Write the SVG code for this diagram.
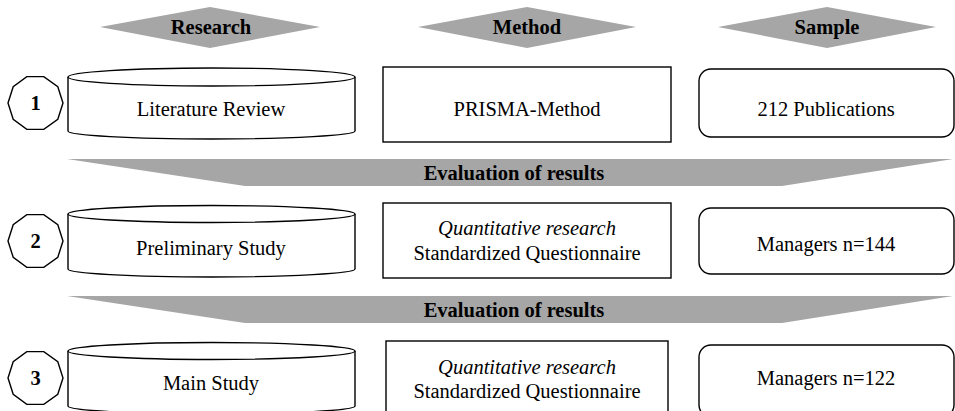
<svg xmlns="http://www.w3.org/2000/svg" width="955" height="411" viewBox="0 0 955 411">
<style>
.hdr{fill:#a6a6a6;stroke:none}
.band{fill:#a6a6a6;stroke:none}
.ln{fill:#fff;stroke:#000;stroke-width:1.4}
.t{font-family:"Liberation Serif","Times New Roman","DejaVu Serif",serif;font-size:20.5px;fill:#000;text-anchor:middle}
.b{font-weight:bold}
.i{font-style:italic}
</style>
<rect width="955" height="411" fill="#fff"/>
<g id="headers">
  <g id="h-research"><polygon class="hdr" points="100,27 210,7 320,27 210,48"/><text class="t b" x="211" y="34">Research</text></g>
  <g id="h-method"><polygon class="hdr" points="418,27 527,7 636,27 527,48"/><text class="t b" x="527" y="34">Method</text></g>
  <g id="h-sample"><polygon class="hdr" points="718,27 827,7 936,27 827,48"/><text class="t b" x="827" y="34">Sample</text></g>
</g>
<g id="connectors">
  <g id="eval1"><polygon class="band" points="67,159 953,159 782,186 245,186"/><text class="t b" x="514" y="180">Evaluation of results</text></g>
  <g id="eval2"><polygon class="band" points="67,296 953,296 782,323 245,323"/><text class="t b" x="514" y="317">Evaluation of results</text></g>
</g>
<g id="step1">
  <polygon class="ln" points="63,103 57.8,119.3 43.8,129.4 26.8,129.4 13.2,119.3 8,103 13.2,86.7 26.8,76.6 43.8,76.6 57.8,86.7"/>
  <text class="t b" x="35.5" y="110">1</text>
</g>
<g id="step2">
  <polygon class="ln" points="63,241 57.8,257.3 43.8,267.4 26.8,267.4 13.2,257.3 8,241 13.2,224.7 26.8,214.6 43.8,214.6 57.8,224.7"/>
  <text class="t b" x="35.5" y="248">2</text>
</g>
<g id="step3">
  <polygon class="ln" points="63,378 57.8,394.3 43.8,404.4 26.8,404.4 13.2,394.3 8,378 13.2,361.7 26.8,351.6 43.8,351.6 57.8,361.7"/>
  <text class="t b" x="35.5" y="385">3</text>
</g>
<g id="lit-review">
  <path class="ln" d="M68,77 L68,131 A143.5,8 0 0 0 355,131 L355,77"/>
  <ellipse class="ln" cx="211.5" cy="77" rx="143.5" ry="9"/>
  <text class="t" x="211" y="116">Literature Review</text>
</g>
<g id="prelim-study">
  <path class="ln" d="M68,214 L68,269 A143.5,8 0 0 0 355,269 L355,214"/>
  <ellipse class="ln" cx="211.5" cy="214" rx="143.5" ry="8.5"/>
  <text class="t" x="211" y="255">Preliminary Study</text>
</g>
<g id="main-study">
  <path class="ln" d="M68,351 L68,406 A143.5,8 0 0 0 355,406 L355,351"/>
  <ellipse class="ln" cx="211.5" cy="351" rx="143.5" ry="8.5"/>
  <text class="t" x="211" y="390">Main Study</text>
</g>
<g id="prisma">
  <rect class="ln" x="383" y="67" width="288" height="75"/>
  <text class="t" x="527" y="116">PRISMA-Method</text>
</g>
<g id="method2">
  <rect class="ln" x="383" y="203" width="288" height="75"/>
  <text class="t i" x="527" y="235">Quantitative research</text>
  <text class="t" x="527" y="260">Standardized Questionnaire</text>
</g>
<g id="method3">
  <rect class="ln" x="386" y="341" width="282" height="80"/>
  <text class="t i" x="527" y="374">Quantitative research</text>
  <text class="t" x="527" y="398">Standardized Questionnaire</text>
</g>
<g id="sample1">
  <rect class="ln" x="699" y="69" width="255" height="68" rx="12"/>
  <text class="t" x="826" y="116">212 Publications</text>
</g>
<g id="sample2">
  <rect class="ln" x="699" y="208" width="255" height="66" rx="12"/>
  <text class="t" x="826" y="251">Managers n=144</text>
</g>
<g id="sample3">
  <rect class="ln" x="699" y="345" width="255" height="72" rx="12"/>
  <text class="t" x="826" y="385">Managers n=122</text>
</g>
</svg>
